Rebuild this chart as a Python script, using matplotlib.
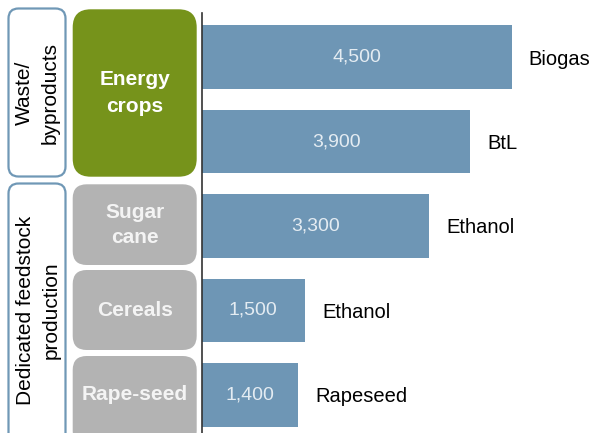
import matplotlib
matplotlib.use("Agg")
import matplotlib.pyplot as plt
from matplotlib.patches import FancyBboxPatch

plt.rcParams['font.family'] = ['Liberation Sans', 'DejaVu Sans']

# data
values = [4500, 3900, 3300, 1500, 1400]
value_labels = ["4,500", "3,900", "3,300", "1,500", "1,400"]
fuels = ["Biogas", "BtL", "Ethanol", "Ethanol", "Rapeseed"]

bar_color = "#6e96b5"
green = "#76931b"
grey = "#b3b3b3"
outline = "#7098b6"

W, H = 593, 433
fig = plt.figure(figsize=(W / 100, H / 100), dpi=100)

# overlay in pixel units for the left boxes
bg = fig.add_axes([0, 0, 1, 1])
bg.set_xlim(0, W)
bg.set_ylim(H, 0)
bg.axis("off")


def box(x0, y0, x1, y1, r, fc, ec="none", lw=0):
    p = FancyBboxPatch((x0, y0), x1 - x0, y1 - y0,
                       boxstyle=f"round,pad=0,rounding_size={r}",
                       fc=fc, ec=ec, lw=lw)
    bg.add_patch(p)


# group outlines
box(8.5, 8.5, 65.5, 176.5, 10, "none", outline, 1.6)
box(8.5, 183.5, 65.5, 445, 10, "none", outline, 1.6)
bg.text(37, 93, "Waste/\nbyproducts", rotation=90, ha="center", va="center",
        fontsize=15, linespacing=1.45)
bg.text(38, 310, "Dedicated feedstock\nproduction", rotation=90, ha="center",
        va="center", fontsize=15, linespacing=1.45)

# feedstock boxes
box(72.7, 9.3, 196.7, 176.7, 18, green)
bg.text(135, 93, "Energy\ncrops", ha="center", va="center", color="white",
        fontsize=15, fontweight="bold", linespacing=1.5)
box(72.7, 184.3, 196.7, 265, 14, grey)
bg.text(135, 225, "Sugar\ncane", ha="center", va="center", color="#f4f4f4",
        fontsize=15, fontweight="bold", linespacing=1.4)
box(72.7, 270, 196.7, 350, 14, grey)
bg.text(135, 310, "Cereals", ha="center", va="center", color="#f4f4f4",
        fontsize=15, fontweight="bold")
box(72.7, 356, 196.7, 445, 14, grey)
bg.text(135, 395, "Rape-seed", ha="center", va="center", color="#f4f4f4",
        fontsize=15, fontweight="bold")

# bar axes
left, top = 201.7, 13
ax = fig.add_axes([left / W, 0, (W - left) / W, (H - top) / H])
pos = list(range(len(values)))
ax.barh(pos, values, height=0.757, color=bar_color)
ax.set_xlim(0, (W - left) / 0.06889)
ax.set_ylim(4.45, -0.521)
for i, v in enumerate(values):
    ax.text(v / 2, i, value_labels[i], ha="center", va="center",
            color="#e4ecf2", fontsize=14)
    ax.annotate(fuels[i], (v, i), xytext=(17, -2), textcoords="offset pixels",
                ha="left", va="center", fontsize=14.5)
for s in ["top", "right", "bottom"]:
    ax.spines[s].set_visible(False)
ax.spines["left"].set_color("#333333")
ax.spines["left"].set_linewidth(1.2)
ax.set_xticks([])
ax.set_yticks([])
ax.patch.set_alpha(0)

fig.savefig("out.png", dpi=100)
